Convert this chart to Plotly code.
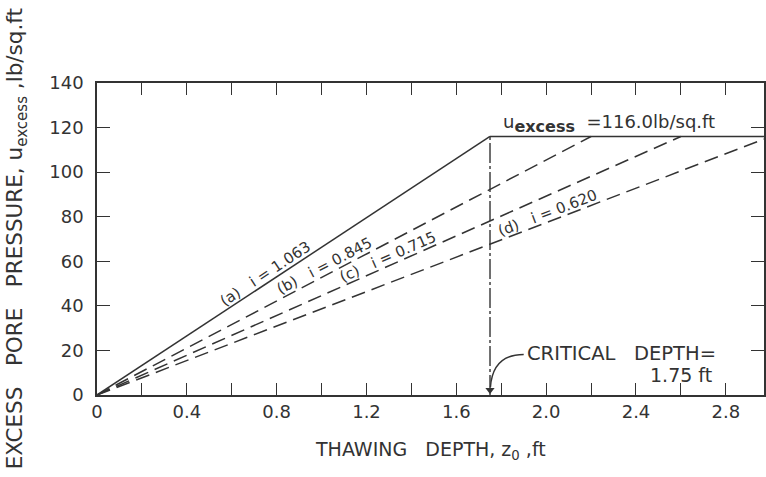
import math
import plotly.graph_objects as go

# ---- data ----
series_labels = ["(a)", "(b)", "(c)", "(d)"]
gradients = [1.063, 0.845, 0.715, 0.620]
z_end = [1.75, 2.20, 2.60, 3.00]          # thawing depth where u reaches u_max
u_max = 116.0                              # lb/sq.ft
critical_depth = 1.75                      # ft
label_x = [0.77, 1.03, 1.31, 2.02]         # where each line label sits (ft)
x_major = [0, 0.4, 0.8, 1.2, 1.6, 2.0, 2.4, 2.8]
x_ticktext = ["0", "0.4", "0.8", "1.2", "1.6", "2.0", "2.4", "2.8"]
x_minor = [0.2, 0.6, 1.0, 1.4, 1.8, 2.2, 2.6]
y_ticks = [0, 20, 40, 60, 80, 100, 120, 140]

W, H = 766, 477
ML, MR, MT, MB = 97, 0, 83, 82
XR = [0, 2.97]
YR = [0, 140]
px_x = (W - ML - MR) / (XR[1] - XR[0])
px_y = (H - MT - MB) / (YR[1] - YR[0])

INK = "#333333"
FONT = "DejaVu Sans"
SP = "&nbsp;"

fig = go.Figure()

# pore-pressure lines
for i, (lab, ze) in enumerate(zip(series_labels, z_end)):
    fig.add_trace(go.Scatter(
        x=[0, ze], y=[0, u_max], mode="lines",
        line=dict(color=INK, width=1.5, dash="solid" if i == 0 else "14px,7px"),
        showlegend=False, hoverinfo="skip"))

# plateau at u_max
fig.add_trace(go.Scatter(
    x=[critical_depth, z_end[-1]], y=[u_max, u_max], mode="lines",
    line=dict(color=INK, width=1.5), showlegend=False, hoverinfo="skip"))

# critical depth vertical line
fig.add_trace(go.Scatter(
    x=[critical_depth, critical_depth], y=[0, u_max], mode="lines",
    line=dict(color=INK, width=1.4, dash="20px,3px,3px,3px"),
    showlegend=False, hoverinfo="skip"))

# arrowhead of the critical-depth pointer
fig.add_trace(go.Scatter(
    x=[critical_depth], y=[2.2], mode="markers",
    marker=dict(symbol="triangle-down", size=8, color=INK, line=dict(width=0)),
    showlegend=False, hoverinfo="skip"))

annotations = []
# line labels
for lab, g, ze, lx in zip(series_labels, gradients, z_end, label_x):
    slope = u_max / ze
    ang = math.degrees(math.atan(slope * px_y / px_x))
    d = 9
    annotations.append(dict(
        x=lx, y=slope * lx, xref="x", yref="y",
        text=f"{lab}{SP*3}i = {g:.3f}", showarrow=False,
        textangle=-ang, font=dict(family=FONT, size=15, color=INK),
        xshift=-d * math.sin(math.radians(ang)), yshift=d * math.cos(math.radians(ang))))

# u_excess label
annotations.append(dict(
    x=1.80, y=u_max + 6, xref="x", yref="y", xanchor="left", yanchor="middle",
    text=(f"u<sub><span style='font-size:16px'><b>excess</b></span></sub>"
          f"{SP*2}={u_max:.1f}lb/sq.ft"),
    showarrow=False, font=dict(family=FONT, size=18, color=INK)))

# critical depth text
annotations.append(dict(
    x=1.905, y=18.5, xref="x", yref="y", xanchor="left", yanchor="middle",
    text=f"CRITICAL{SP*3}DEPTH=", showarrow=False,
    font=dict(family=FONT, size=19.5, color=INK)))
annotations.append(dict(
    x=2.60, y=9.0, xref="x", yref="y", xanchor="center", yanchor="middle",
    text=f"{critical_depth:.2f} ft", showarrow=False,
    font=dict(family=FONT, size=19, color=INK)))

# axis titles
annotations.append(dict(
    x=-(ML - 16) / (W - ML - MR), y=0.50, xref="paper", yref="paper",
    text=f"EXCESS{SP*3}PORE{SP*3}PRESSURE, u<sub>excess</sub>{SP},lb/sq.ft", textangle=-90,
    showarrow=False, xanchor="center", yanchor="middle",
    font=dict(family=FONT, size=21.5, color=INK)))
annotations.append(dict(
    x=0.50, y=-(450 - (H - MB)) / (H - MT - MB), xref="paper", yref="paper",
    text=f"THAWING{SP*3}DEPTH, z<sub>0</sub>{SP},ft", showarrow=False,
    xanchor="center", yanchor="middle",
    font=dict(family=FONT, size=19, color=INK)))

# curved arrow line
shapes = [dict(
    type="path", xref="x", yref="y",
    path=f"M 1.90,18.2 Q 1.762,18.2 {critical_depth + 0.002},3.5",
    line=dict(color=INK, width=1.4))]

tick_common = dict(ticks="inside", tickwidth=1.4, tickcolor=INK,
                   showline=True, linecolor=INK, linewidth=1.5, mirror="ticks",
                   showgrid=False, zeroline=False,
                   tickfont=dict(family=FONT, size=18, color=INK))

fig.update_layout(
    width=W, height=H,
    margin=dict(l=ML, r=MR, t=MT, b=MB),
    paper_bgcolor="white", plot_bgcolor="white",
    annotations=annotations, shapes=shapes,
    xaxis=dict(range=XR, tickmode="array", tickvals=x_major, ticktext=x_ticktext, ticklen=12,
               minor=dict(tickmode="array", tickvals=x_minor, ticks="inside", ticklen=12,
                          tickwidth=1.4, tickcolor=INK, showgrid=False),
               **tick_common),
    yaxis=dict(range=YR, tickvals=y_ticks, ticklen=13, ticklabelstandoff=8, **tick_common),
)

fig.write_html("out.html")
